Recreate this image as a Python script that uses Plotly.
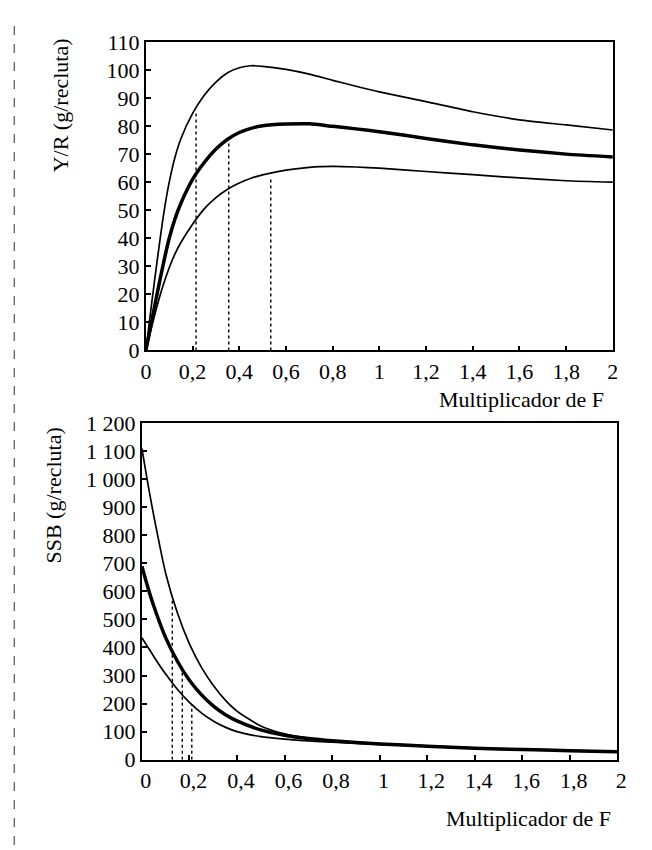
import plotly.graph_objects as go

# ---------------- data ----------------
F_yr = [0, 0.025, 0.05, 0.075, 0.1, 0.125, 0.15, 0.2, 0.25, 0.3, 0.35, 0.4, 0.45, 0.5,
        0.6, 0.7, 0.8, 0.9, 1.0, 1.2, 1.4, 1.6, 1.8, 2.0]
yr_upper = [0, 17, 33, 48, 60, 69, 75.5, 84.5, 91, 95.7, 99, 100.8, 101.5, 101.3,
            100.2, 98.5, 96.3, 94.2, 92.2, 88.7, 85.1, 82.2, 80.4, 78.6]
yr_mid = [0, 10.5, 21, 31, 40, 47, 52.5, 61, 67, 71.8, 75.3, 77.7, 79.2, 80.1,
          80.7, 80.8, 79.9, 79, 78, 75.6, 73.3, 71.5, 70, 69]
yr_low = [0, 8.5, 16.5, 23.5, 29.5, 34.5, 38.5, 45, 50.5, 54.5, 57.5, 59.7, 61.4, 62.6,
          64.3, 65.3, 65.6, 65.4, 65, 63.8, 62.7, 61.5, 60.5, 60]

F_ssb = [0, 0.025, 0.05, 0.1, 0.15, 0.2, 0.25, 0.3, 0.35, 0.4, 0.5, 0.6, 0.7,
         0.8, 1.0, 1.2, 1.4, 1.6, 1.8, 2.0]
ssb_upper = [1110, 985, 870, 665, 522, 413, 330, 265, 213, 173, 120, 92, 77,
             67, 57, 49, 42, 37, 33, 29]
ssb_mid = [690, 615, 548, 435, 350, 283, 232, 192, 161, 138, 106, 87, 75,
           67, 56, 48, 41, 36, 32, 28]
ssb_low = [435, 402, 368, 305, 250, 204, 167, 138, 116, 100, 82, 73, 67,
           62, 54, 47, 40, 35, 31, 27]

# reference (dotted) lines: F value and height
yr_ref_F = [0.215, 0.355, 0.535]
yr_ref_top = [85.5, 74.5, 62]
ssb_ref_F = [0.128, 0.170, 0.210]
ssb_ref_top = [580, 320, 198]

x_tickvals = [0, 0.2, 0.4, 0.6, 0.8, 1, 1.2, 1.4, 1.6, 1.8, 2]
x_ticktext = ["0", "0,2", "0,4", "0,6", "0,8", "1", "1,2", "1,4", "1,6", "1,8", "2"]
yr_tickvals = [0, 10, 20, 30, 40, 50, 60, 70, 80, 90, 100, 110]
yr_ticktext = [str(v) for v in yr_tickvals]
ssb_tickvals = [0, 100, 200, 300, 400, 500, 600, 700, 800, 900, 1000, 1100, 1200]
ssb_ticktext = ["0", "100", "200", "300", "400", "500", "600", "700", "800",
                "900", "1 000", "1 100", "1 200"]

x_title = "Multiplicador de F"
yr_title = "Y/R (g/recluta)"
ssb_title = "SSB (g/recluta)"

# ---------------- figure ----------------
W, H = 652, 850
FONT = "Liberation Serif"


def px(tx):
    # target screen x (px) -> paper fraction
    return ((tx - 13.4) / 0.9765) / W


def py(ty):
    # target screen y (px from top) -> paper fraction
    return 1 - ((ty - 18.0) / 0.975) / H


fig = go.Figure()


def curve(x, y, width, xa, ya):
    fig.add_trace(go.Scatter(x=x, y=y, mode="lines", xaxis=xa, yaxis=ya,
                             line=dict(color="black", width=width, shape="spline",
                                       smoothing=0.6),
                             hoverinfo="skip", showlegend=False))


for f, top in zip(yr_ref_F, yr_ref_top):
    fig.add_trace(go.Scatter(x=[f, f], y=[0, top], mode="lines", xaxis="x", yaxis="y",
                             line=dict(color="black", width=1.4, dash="dot"),
                             showlegend=False, hoverinfo="skip"))
for f, top in zip(ssb_ref_F, ssb_ref_top):
    fig.add_trace(go.Scatter(x=[f, f], y=[0, top], mode="lines", xaxis="x2", yaxis="y2",
                             line=dict(color="black", width=1.4, dash="dot"),
                             showlegend=False, hoverinfo="skip"))

curve(F_yr, yr_upper, 1.7, "x", "y")
curve(F_yr, yr_mid, 3.5, "x", "y")
curve(F_yr, yr_low, 1.7, "x", "y")
curve(F_ssb, ssb_upper, 1.7, "x2", "y2")
curve(F_ssb, ssb_mid, 3.5, "x2", "y2")
curve(F_ssb, ssb_low, 1.7, "x2", "y2")

tickfont = dict(family=FONT, size=22, color="black")
common_x = dict(range=[0, 2], tickvals=x_tickvals, ticktext=x_ticktext,
                ticks="inside", ticklen=5, tickwidth=1.5, tickcolor="black",
                showline=True, linecolor="black", linewidth=1.8, mirror=True,
                showgrid=False, zeroline=False, tickfont=tickfont, fixedrange=True)
common_y = dict(ticks="inside", ticklen=5, tickwidth=1.5, tickcolor="black",
                showline=True, linecolor="black", linewidth=1.8, mirror=True,
                showgrid=False, zeroline=False, tickfont=tickfont, fixedrange=True)

fig.update_layout(
    width=W, height=H,
    margin=dict(l=0, r=0, t=0, b=0),
    paper_bgcolor="white", plot_bgcolor="white",
    xaxis=dict(common_x, domain=[px(146), px(612)], anchor="y"),
    yaxis=dict(common_y, domain=[py(350), py(40)], anchor="x",
               range=[0, 110], tickvals=yr_tickvals, ticktext=yr_ticktext),
    xaxis2=dict(common_x, domain=[px(142), px(616.5)], anchor="y2", ticklabelshift=4),
    yaxis2=dict(common_y, domain=[py(761), py(423)], anchor="x2",
                range=[0, 1200], tickvals=ssb_tickvals, ticktext=ssb_ticktext),
    showlegend=False,
)

titlefont = dict(family=FONT, size=22, color="black")
fig.add_annotation(text=x_title, xref="paper", yref="paper", x=px(605), y=py(399),
                   xanchor="right", yanchor="middle", showarrow=False, font=titlefont)
fig.add_annotation(text=x_title, xref="paper", yref="paper", x=px(612), y=py(820),
                   xanchor="right", yanchor="middle", showarrow=False, font=titlefont)
fig.add_annotation(text=yr_title, xref="paper", yref="paper", x=px(61), y=py(104),
                   xanchor="center", yanchor="middle", showarrow=False, font=titlefont,
                   textangle=-90)
fig.add_annotation(text=ssb_title, xref="paper", yref="paper", x=px(54), y=py(496),
                   xanchor="center", yanchor="middle", showarrow=False, font=titlefont,
                   textangle=-90)

# scanned page border on the left
fig.add_shape(type="line", xref="paper", yref="paper", x0=0.002, x1=0.002, y0=0.0, y1=1.0,
              line=dict(color="#555555", width=1.2, dash="dash"))

fig.write_html("out.html")
